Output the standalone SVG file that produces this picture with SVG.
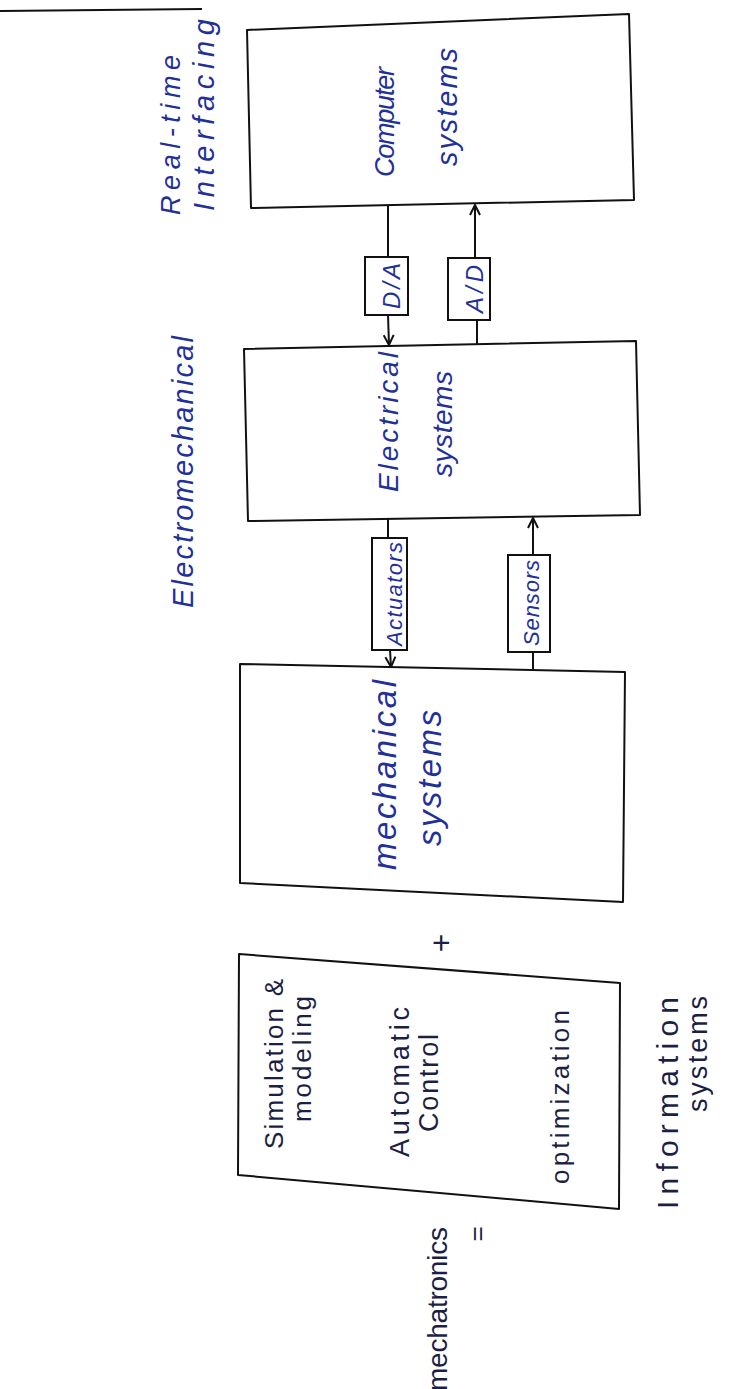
<svg xmlns="http://www.w3.org/2000/svg" width="731" height="1389" viewBox="0 0 731 1389">
<style>
.box{fill:none;stroke:#111;stroke-width:2;stroke-linejoin:round}
.sbox{fill:#fff;stroke:#111;stroke-width:2}
.ln{fill:none;stroke:#111;stroke-width:2}
.bl{font-family:"Liberation Sans",Arial,sans-serif;font-style:italic;fill:#22309a}
.dk{font-family:"Liberation Sans",Arial,sans-serif;fill:#1c1f45}
</style>
<defs>
<marker id="ah" viewBox="0 0 12 12" refX="11" refY="6" markerWidth="12" markerHeight="12" markerUnits="userSpaceOnUse" orient="auto">
<path d="M1,1 L11,6 L1,11" fill="none" stroke="#111" stroke-width="2"/>
</marker>
</defs>
<rect width="731" height="1389" fill="#fff"/>
<line class="ln" x1="0" y1="11" x2="202" y2="9"/>
<g id="label-realtime">
<text class="bl" font-size="27" transform="translate(180,135) rotate(-90)" text-anchor="middle" textLength="160" lengthAdjust="spacing">Real-time</text>
<text class="bl" font-size="29" transform="translate(214,115) rotate(-90)" text-anchor="middle" textLength="192" lengthAdjust="spacing">Interfacing</text>
</g>
<g id="label-electromechanical">
<text class="bl" font-size="29" transform="translate(193,472) rotate(-90)" text-anchor="middle" textLength="272" lengthAdjust="spacing">Electromechanical</text>
</g>
<g id="computer">
<polygon class="box" points="247,30 629,14 634,200 251,208"/>
<text class="bl" font-size="27" transform="translate(394,122) rotate(-90)" text-anchor="middle" textLength="110" lengthAdjust="spacing">Computer</text>
<text class="bl" font-size="29" transform="translate(457,107) rotate(-90)" text-anchor="middle" textLength="118" lengthAdjust="spacing">systems</text>
</g>
<g id="electrical">
<polygon class="box" points="244,349 636,341 640,515 248,521"/>
<text class="bl" font-size="28" transform="translate(398,422) rotate(-90)" text-anchor="middle" textLength="140" lengthAdjust="spacing">Electrical</text>
<text class="bl" font-size="28" transform="translate(452,424) rotate(-90)" text-anchor="middle" textLength="106" lengthAdjust="spacing">systems</text>
</g>
<g id="mechanical">
<polygon class="box" points="240,664 625,672 623,902 240,883"/>
<text class="bl" font-size="33" transform="translate(396,775) rotate(-90)" text-anchor="middle" textLength="190" lengthAdjust="spacing">mechanical</text>
<text class="bl" font-size="33" transform="translate(441,778) rotate(-90)" text-anchor="middle" textLength="136" lengthAdjust="spacing">systems</text>
</g>
<g id="information">
<polygon class="box" points="239,954 620,983 619,1209 238,1175"/>
<text class="dk" font-size="26" transform="translate(283,1064) rotate(-90)" text-anchor="middle" textLength="170" lengthAdjust="spacing">Simulation &amp;</text>
<text class="dk" font-size="26" transform="translate(311,1059) rotate(-90)" text-anchor="middle" textLength="126" lengthAdjust="spacing">modeling</text>
<text class="dk" font-size="27" transform="translate(409,1082) rotate(-90)" text-anchor="middle" textLength="150" lengthAdjust="spacing">Automatic</text>
<text class="dk" font-size="27" transform="translate(438,1083) rotate(-90)" text-anchor="middle" textLength="98" lengthAdjust="spacing">Control</text>
<text class="dk" font-size="26" transform="translate(569,1097) rotate(-90)" text-anchor="middle" textLength="174" lengthAdjust="spacing">optimization</text>
</g>
<g id="label-information">
<text class="dk" font-size="30" transform="translate(678,1103) rotate(-90)" text-anchor="middle" textLength="212" lengthAdjust="spacing">Information</text>
<text class="dk" font-size="27" transform="translate(707,1054) rotate(-90)" text-anchor="middle" textLength="116" lengthAdjust="spacing">systems</text>
</g>
<g id="label-mechatronics">
<text class="dk" font-size="28" transform="translate(447,1309) rotate(-90)" text-anchor="middle" textLength="164" lengthAdjust="spacing">mechatronics</text>
<text class="dk" font-size="26" transform="translate(486,1234) rotate(-90)" text-anchor="middle">=</text>
<text class="dk" font-size="32" transform="translate(452,943) rotate(-90)" text-anchor="middle">+</text>
</g>
<g id="connectors">
<line class="ln" x1="388" y1="205" x2="388" y2="257"/>
<line class="ln" x1="388" y1="315" x2="389" y2="345" marker-end="url(#ah)"/>
<line class="ln" x1="477" y1="344" x2="477" y2="320"/>
<line class="ln" x1="475" y1="258" x2="475" y2="205" marker-end="url(#ah)"/>
<line class="ln" x1="388" y1="518" x2="388" y2="538"/>
<line class="ln" x1="390" y1="650" x2="391" y2="667" marker-end="url(#ah)"/>
<line class="ln" x1="533" y1="669" x2="533" y2="652"/>
<line class="ln" x1="533" y1="555" x2="533" y2="518" marker-end="url(#ah)"/>
</g>
<g id="da">
<rect class="sbox" x="365" y="257" width="43" height="58"/>
<text class="bl" font-size="24" transform="translate(400,286) rotate(-90)" text-anchor="middle" textLength="46" lengthAdjust="spacing">D/A</text>
</g>
<g id="ad">
<rect class="sbox" x="448" y="258" width="42" height="62"/>
<text class="bl" font-size="24" transform="translate(483,289) rotate(-90)" text-anchor="middle" textLength="48" lengthAdjust="spacing">A/D</text>
</g>
<g id="actuators">
<rect class="sbox" x="372" y="538" width="35" height="112"/>
<text class="bl" font-size="22" transform="translate(402,594) rotate(-90)" text-anchor="middle" textLength="104" lengthAdjust="spacing">Actuators</text>
</g>
<g id="sensors">
<rect class="sbox" x="508" y="555" width="42" height="97"/>
<text class="bl" font-size="22" transform="translate(539,603) rotate(-90)" text-anchor="middle" textLength="86" lengthAdjust="spacing">Sensors</text>
</g>
</svg>
